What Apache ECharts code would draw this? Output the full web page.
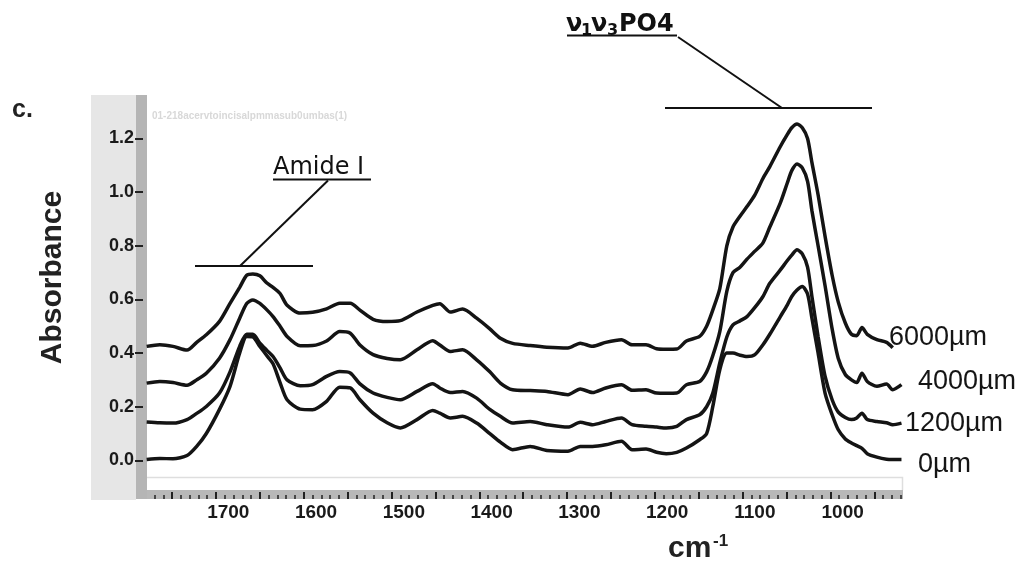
<!DOCTYPE html>
<html>
<head>
<meta charset="utf-8">
<script src="https://cdn.jsdelivr.net/npm/echarts@6/dist/echarts.min.js"></script>
<style>
  html, body { margin: 0; padding: 0; background: #ffffff; }
  #chart { width: 1033px; height: 567px; }
</style>
</head>
<body>
<div id="chart"></div>
<script>
// ---- data (wavenumber in cm-1, absorbance) ----
const wavenumbers = [1793,1778,1763,1747,1736,1725,1710,1698,1687,1679,1672,1664,1656,1649,1641,1633,1618,1604,1588,1573,1561,1550,1535,1519,1504,1485,1467,1459,1447,1433,1417,1402,1390,1376,1356,1337,1313,1299,1285,1270,1252,1240,1224,1212,1201,1189,1178,1163,1155,1148,1140,1132,1125,1117,1109,1100,1091,1083,1071,1063,1058,1052,1046,1040,1035,1028,1020,1012,1005,997,990,984,978,972,961,950,943,933];

const abs6000 = [0.425,0.431,0.425,0.411,0.440,0.468,0.518,0.585,0.645,0.690,0.695,0.688,0.661,0.645,0.622,0.578,0.549,0.552,0.565,0.586,0.586,0.560,0.526,0.518,0.521,0.553,0.578,0.584,0.553,0.564,0.530,0.490,0.455,0.436,0.428,0.422,0.419,0.437,0.425,0.440,0.450,0.431,0.431,0.416,0.414,0.415,0.445,0.462,0.500,0.560,0.640,0.800,0.870,0.910,0.946,0.990,1.050,1.095,1.170,1.215,1.240,1.254,1.240,1.200,1.110,0.990,0.834,0.690,0.590,0.512,0.470,0.465,0.495,0.470,0.450,0.440,0.420,null];

const abs4000 = [0.288,0.294,0.290,0.280,0.300,0.325,0.381,0.450,0.530,0.585,0.598,0.585,0.561,0.536,0.500,0.462,0.427,0.428,0.445,0.480,0.474,0.430,0.394,0.380,0.375,0.412,0.446,0.430,0.406,0.412,0.375,0.330,0.288,0.263,0.260,0.257,0.245,0.266,0.253,0.270,0.282,0.261,0.263,0.251,0.250,0.251,0.282,0.294,0.330,0.390,0.480,0.630,0.700,0.720,0.750,0.780,0.810,0.870,0.960,1.035,1.080,1.105,1.090,1.040,0.930,0.800,0.650,0.490,0.380,0.320,0.300,0.290,0.325,0.294,0.276,0.285,0.263,0.282];

const abs1200 = [0.143,0.140,0.139,0.152,0.175,0.201,0.251,0.330,0.425,0.470,0.470,0.437,0.410,0.387,0.345,0.300,0.278,0.282,0.313,0.331,0.326,0.285,0.251,0.235,0.226,0.257,0.286,0.270,0.253,0.257,0.232,0.190,0.164,0.139,0.145,0.133,0.124,0.142,0.133,0.145,0.158,0.133,0.127,0.124,0.121,0.127,0.152,0.170,0.200,0.250,0.363,0.460,0.505,0.520,0.536,0.570,0.610,0.660,0.710,0.745,0.765,0.785,0.770,0.720,0.610,0.462,0.313,0.226,0.180,0.160,0.152,0.158,0.176,0.152,0.145,0.140,0.133,0.139];

const abs0 = [0.003,0.007,0.006,0.018,0.052,0.100,0.190,0.276,0.400,0.462,0.460,0.425,0.390,0.360,0.290,0.226,0.191,0.189,0.220,0.273,0.270,0.226,0.176,0.140,0.121,0.152,0.186,0.176,0.158,0.164,0.139,0.100,0.068,0.040,0.052,0.037,0.034,0.052,0.052,0.058,0.071,0.040,0.042,0.030,0.025,0.030,0.046,0.077,0.100,0.200,0.338,0.400,0.400,0.392,0.387,0.394,0.430,0.470,0.536,0.580,0.611,0.635,0.648,0.620,0.530,0.400,0.250,0.170,0.114,0.080,0.065,0.055,0.045,0.025,0.012,0.004,0.003,0.003];

const seriesNames = ['6000\u00b5m', '4000\u00b5m', '1200\u00b5m', '0\u00b5m'];
const xTickLabels = [1700, 1600, 1500, 1400, 1300, 1200, 1100, 1000];
const yTickLabels = [0.0, 0.2, 0.4, 0.6, 0.8, 1.0, 1.2];
const xMajorTicks = [1764, 1714, 1664, 1614, 1564, 1514, 1464, 1414, 1364, 1314, 1264, 1214, 1164, 1114, 1064, 1014, 964];
const xMinorTicks = [];
for (let v = 1784; v >= 934; v -= 10) xMinorTicks.push(v);

const X_MIN = 932.4, X_MAX = 1792.6;
const Y_MIN = -0.062, Y_MAX = 1.362;

function pairs(ys) {
  const out = [];
  for (let i = 0; i < wavenumbers.length; i++) {
    if (ys[i] !== null) out.push([wavenumbers[i], ys[i]]);
  }
  return out;
}

const chart = echarts.init(document.getElementById('chart'), null, { renderer: 'canvas' });

const baseX = {
  type: 'value', min: X_MIN, max: X_MAX, inverse: true, position: 'bottom', offset: 22,
  axisLine: { show: false }, splitLine: { show: false }
};

const lineStyle = { color: '#141414', width: 3.5 };
const allSeries = [abs6000, abs4000, abs1200, abs0].map((ys, i) => ({
  name: seriesNames[i], type: 'line', data: pairs(ys), showSymbol: false, smooth: 0.25,
  lineStyle: lineStyle, silent: true, z: 3
}));

const ann = '#111111';
const graphic = [
  // left panel & strips
  { type: 'rect', z: -10, shape: { x: 91, y: 95, width: 45, height: 405 }, style: { fill: '#e6e6e6' } },
  { type: 'rect', z: -10, shape: { x: 136, y: 95, width: 11, height: 404 }, style: { fill: '#b5b5b5' } },
  { type: 'rect', z: -10, shape: { x: 147, y: 490, width: 756, height: 9 }, style: { fill: '#b8b8b8' } },
  { type: 'polyline', z: -10, shape: { points: [[147, 477.5], [902.5, 477.5], [902.5, 490]] }, style: { stroke: '#dedede', lineWidth: 1.5, fill: null } },
  // title & watermark
  { type: 'text', left: 12, top: 98, style: { text: 'c.', font: 'bold 25px "Liberation Sans", Arial, sans-serif', fill: '#222' } },
  { type: 'text', x: 152, y: 116, style: { text: '01-218acervtoincisalpmmasub0umbas(1)', font: 'bold 10px "Liberation Sans", Arial, sans-serif', fill: '#d8d8d8', verticalAlign: 'middle' } },
  // axis titles
  { type: 'text', x: 53, y: 277.5, rotation: Math.PI / 2, style: { text: 'Absorbance', font: 'bold 30px "Liberation Sans", Arial, sans-serif', fill: '#222', align: 'center', verticalAlign: 'middle' } },
  { type: 'text', x: 668, y: 549, style: { text: 'cm', font: 'bold 30px "Liberation Sans", Arial, sans-serif', fill: '#222', verticalAlign: 'middle' } },
  { type: 'text', x: 713, y: 541, style: { text: '-1', font: 'bold 17px "Liberation Sans", Arial, sans-serif', fill: '#222', verticalAlign: 'middle' } },
  // Amide I annotation
  { type: 'text', x: 273, y: 168, style: { text: 'Amide I', font: '24px "DejaVu Sans", sans-serif', fill: ann, verticalAlign: 'middle' } },
  { type: 'line', shape: { x1: 273, y1: 179.5, x2: 371, y2: 179.5 }, style: { stroke: ann, lineWidth: 2 } },
  { type: 'line', shape: { x1: 328, y1: 180.5, x2: 240, y2: 266 }, style: { stroke: ann, lineWidth: 2 } },
  { type: 'line', shape: { x1: 195, y1: 266, x2: 313, y2: 266 }, style: { stroke: ann, lineWidth: 2 } },
  // v1v3PO4 annotation
  { type: 'text', x: 566, y: 25, style: { text: '\u03bd', font: 'bold 24px "DejaVu Sans", sans-serif', fill: ann, verticalAlign: 'middle' } },
  { type: 'text', x: 581, y: 31, style: { text: '1', font: 'bold 16px "DejaVu Sans", sans-serif', fill: ann, verticalAlign: 'middle' } },
  { type: 'text', x: 591, y: 25, style: { text: '\u03bd', font: 'bold 24px "DejaVu Sans", sans-serif', fill: ann, verticalAlign: 'middle' } },
  { type: 'text', x: 607, y: 31, style: { text: '3', font: 'bold 16px "DejaVu Sans", sans-serif', fill: ann, verticalAlign: 'middle' } },
  { type: 'text', x: 619, y: 25, style: { text: 'PO4', font: 'bold 24px "DejaVu Sans", sans-serif', fill: ann, verticalAlign: 'middle' } },
  { type: 'line', shape: { x1: 567, y1: 35.5, x2: 677, y2: 35.5 }, style: { stroke: ann, lineWidth: 2 } },
  { type: 'line', shape: { x1: 678, y1: 37, x2: 782, y2: 108 }, style: { stroke: ann, lineWidth: 2 } },
  { type: 'line', shape: { x1: 665, y1: 108, x2: 872, y2: 108 }, style: { stroke: ann, lineWidth: 2 } },
  // series labels
  { type: 'text', x: 889, y: 338, style: { text: seriesNames[0], font: '27px "Liberation Sans", Arial, sans-serif', fill: '#151515', verticalAlign: 'middle' } },
  { type: 'text', x: 918, y: 381.5, style: { text: seriesNames[1], font: '27px "Liberation Sans", Arial, sans-serif', fill: '#151515', verticalAlign: 'middle' } },
  { type: 'text', x: 905, y: 424, style: { text: seriesNames[2], font: '27px "Liberation Sans", Arial, sans-serif', fill: '#151515', verticalAlign: 'middle' } },
  { type: 'text', x: 918, y: 464.5, style: { text: seriesNames[3], font: '27px "Liberation Sans", Arial, sans-serif', fill: '#151515', verticalAlign: 'middle' } }
];

chart.setOption({
  animation: false,
  backgroundColor: '#ffffff',
  grid: { left: 147, right: 131, top: 95, bottom: 90, containLabel: false },
  xAxis: [
    Object.assign({}, baseX, {
      axisTick: { show: false },
      axisLabel: { customValues: xTickLabels, margin: 4, fontSize: 19, fontWeight: 'bold', color: '#1a1a1a', fontFamily: '"Liberation Sans", Arial, sans-serif', formatter: v => String(Math.round(v)) }
    }),
    Object.assign({}, baseX, {
      axisLabel: { show: false },
      axisTick: { show: true, customValues: xMinorTicks, inside: true, length: 4, lineStyle: { color: '#222', width: 1.5 } }
    }),
    Object.assign({}, baseX, {
      axisLabel: { show: false },
      axisTick: { show: true, customValues: xMajorTicks, inside: true, length: 7, lineStyle: { color: '#222', width: 2 } }
    })
  ],
  yAxis: {
    type: 'value', min: Y_MIN, max: Y_MAX, offset: 4,
    axisLine: { show: false }, splitLine: { show: false },
    axisTick: { show: true, customValues: yTickLabels, length: 8, lineStyle: { color: '#222', width: 2 } },
    axisLabel: { customValues: yTickLabels, margin: 9, fontSize: 18, fontWeight: 'bold', color: '#1a1a1a', fontFamily: '"Liberation Sans", Arial, sans-serif', formatter: v => v.toFixed(1) }
  },
  series: allSeries,
  graphic: graphic
});
</script>
</body>
</html>
